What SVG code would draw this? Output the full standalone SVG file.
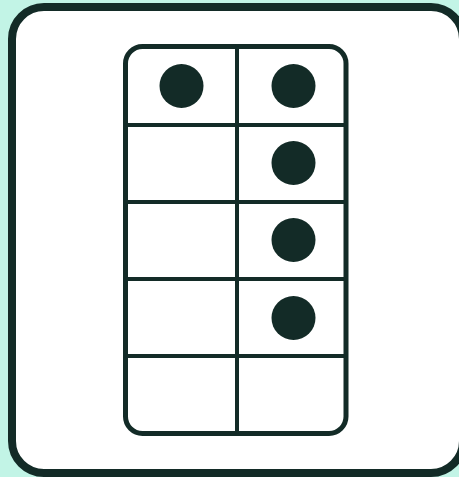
<svg xmlns="http://www.w3.org/2000/svg" width="459" height="477" viewBox="0 0 459 477">
<style>
.line{stroke:#132b27;fill:none}
.dot{fill:#132b27}
</style>
<rect x="0" y="0" width="459" height="477" fill="#c2f4e6"/>
<g id="card">
<rect x="12" y="7" width="451" height="466" rx="32" fill="#ffffff" stroke="#132b27" stroke-width="8"/>
</g>
<g id="frame">
<rect class="line" x="125.5" y="46.5" width="220.5" height="387" rx="17" stroke-width="5"/>
<g class="line" stroke-width="4">
<line x1="237" y1="46.5" x2="237" y2="433.5"/>
<line x1="125.5" y1="125" x2="346" y2="125"/>
<line x1="125.5" y1="202" x2="346" y2="202"/>
<line x1="125.5" y1="279" x2="346" y2="279"/>
<line x1="125.5" y1="356" x2="346" y2="356"/>
</g>
</g>
<g id="dots">
<circle class="dot" cx="181.5" cy="86" r="22"/>
<circle class="dot" cx="293.5" cy="86" r="22"/>
<circle class="dot" cx="293.5" cy="163" r="22"/>
<circle class="dot" cx="293.5" cy="240" r="22"/>
<circle class="dot" cx="293.5" cy="318" r="22"/>
</g>
</svg>
